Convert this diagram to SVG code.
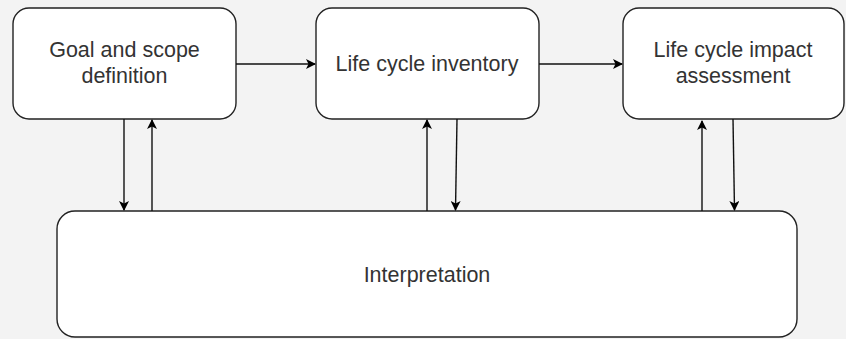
<svg xmlns="http://www.w3.org/2000/svg" width="846" height="339" viewBox="0 0 846 339">
<defs>
<marker id="ah" viewBox="0 0 10 10" refX="9" refY="5" markerWidth="10" markerHeight="10" markerUnits="userSpaceOnUse" orient="auto">
<path d="M0,0 L10,5 L0,10 L2.5,5 Z" fill="#000"/>
</marker>
<style>
.box{fill:#fff;stroke:#222;stroke-width:1.4}
.lbl{font-family:"Liberation Sans",Arial,sans-serif;font-size:21.5px;fill:#333;text-anchor:middle}
.edge{stroke:#111;stroke-width:1.4;fill:none;marker-end:url(#ah)}
</style>
</defs>
<rect x="0" y="0" width="846" height="339" fill="#f3f3f3"/>
<g id="goal">
<rect class="box" x="13" y="8" width="223" height="111" rx="16"/>
<text class="lbl" x="124.5" y="57">Goal and scope</text>
<text class="lbl" x="124.5" y="83">definition</text>
</g>
<g id="inventory">
<rect class="box" x="316" y="8" width="223" height="111" rx="16"/>
<text class="lbl" x="427" y="71">Life cycle inventory</text>
</g>
<g id="impact">
<rect class="box" x="623" y="8" width="221" height="111" rx="16"/>
<text class="lbl" x="733" y="57">Life cycle impact</text>
<text class="lbl" x="733" y="83">assessment</text>
</g>
<g id="interpretation">
<rect class="box" x="57" y="211" width="740" height="126" rx="18"/>
<text class="lbl" x="427" y="282">Interpretation</text>
</g>
<g id="connectors">
<path class="edge" d="M236,64 L315,64"/>
<path class="edge" d="M539,64 L622,64"/>
<path class="edge" d="M124,119 L124,210"/>
<path class="edge" d="M152,211 L152,120"/>
<path class="edge" d="M427,211 L427,120"/>
<path class="edge" d="M457,119 L455.5,210"/>
<path class="edge" d="M702,211 L702,121"/>
<path class="edge" d="M733,119 L734.5,210"/>
</g>
</svg>
